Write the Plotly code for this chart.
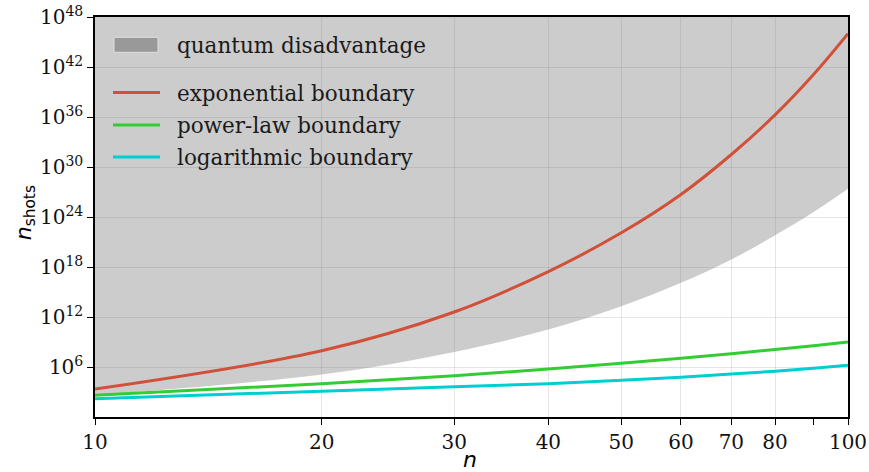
import plotly.graph_objects as go

# values (log10 of n_shots at each n)
n_vals = [10, 20, 30, 40, 50, 60, 70, 80, 90, 100]
region_log = [2.65, 5.1, 7.8, 10.5, 13.3, 16.1, 18.9, 21.8, 24.6, 27.4]
exp_log = [3.35, 7.95, 12.6, 17.45, 22.1, 26.7, 31.5, 36.25, 41.1, 46.0]
power_log = [2.6, 4.0, 4.95, 5.75, 6.45, 7.05, 7.6, 8.1, 8.55, 9.0]
logb_log = [2.2, 3.1, 3.62, 4.0, 4.4, 4.78, 5.15, 5.5, 5.85, 6.2]
top_log = 50

legend_names = ["quantum disadvantage", "exponential boundary", "power-law boundary", "logarithmic boundary"]
line_colors = ["#d1503a", "#34cc34", "#00ced1"]

x_tickvals = [10, 20, 30, 40, 50, 60, 70, 80, 100]
x_ticktext = ["10", "20", "30", "40", "50", "60", "70", "80", "100"]
y_exps = [6, 12, 18, 24, 30, 36, 42, 48]


def pw(v):
    return [10.0 ** e for e in v]


fig = go.Figure()

# shaded region: between the boundary and the top of the plot
fig.add_trace(go.Scatter(x=[n_vals[0], n_vals[-1]], y=[10.0 ** top_log] * 2, mode="lines",
                         line=dict(width=0), showlegend=False, hoverinfo="skip"))
fig.add_trace(go.Scatter(x=n_vals, y=pw(region_log), mode="lines", fill="tonexty",
                         line=dict(width=0, shape="spline"), fillcolor="rgba(128,128,128,0.4)",
                         name=legend_names[0], showlegend=False, hoverinfo="skip"))

for vals, col, name in zip([exp_log, power_log, logb_log], line_colors, legend_names[1:]):
    fig.add_trace(go.Scatter(x=n_vals, y=pw(vals), mode="lines",
                             line=dict(color=col, width=3, shape="spline"),
                             name=name, showlegend=False))

# manual legend (paper coordinates)
W, H, L, T = 753.0, 400.0, 95.0, 16.7


def px(x):
    return (x - L) / W


def py(y):
    return (T + H - y) / H


shapes = [dict(type="rect", xref="paper", yref="paper", x0=px(114), x1=px(158), y0=py(52), y1=py(37),
               fillcolor="#999999", line=dict(color="#e0e0e0", width=1))]
legend_y = [45, 93, 125.5, 157.5]
for yy, col in zip(legend_y[1:], line_colors):
    shapes.append(dict(type="line", xref="paper", yref="paper", x0=px(113), x1=px(160),
                       y0=py(yy - 0.7), y1=py(yy - 0.7), line=dict(color=col, width=3)))

annotations = []
for yy, name in zip(legend_y, legend_names):
    annotations.append(dict(xref="paper", yref="paper", x=px(175), y=py(yy), xanchor="left", yanchor="middle",
                            text=name, showarrow=False,
                            font=dict(family="DejaVu Serif", size=21.5, color="#1a1a1a")))
# axis titles
annotations.append(dict(xref="paper", yref="paper", x=px(470), y=py(459), xanchor="center", yanchor="middle",
                        text="<i>n</i>", showarrow=False,
                        font=dict(family="DejaVu Sans", size=22, color="black")))
annotations.append(dict(xref="paper", yref="paper", x=px(25), y=py(213), xanchor="center", yanchor="middle",
                        text="<i>n</i><sub>shots</sub>", showarrow=False, textangle=-90,
                        font=dict(family="DejaVu Sans", size=22, color="black")))

tick_font = dict(family="DejaVu Serif", size=20, color="#111111")

fig.update_layout(
    width=869, height=472,
    margin=dict(l=95, r=21, t=17, b=55),
    paper_bgcolor="white", plot_bgcolor="white",
    showlegend=False,
    shapes=shapes,
    annotations=annotations,
    xaxis=dict(type="log", range=[1, 2], tickvals=x_tickvals, ticktext=x_ticktext,
               ticks="outside", ticklen=6, tickwidth=1.2, tickcolor="black",
               showline=True, linecolor="black", linewidth=1.5, mirror=True,
               showgrid=True, gridcolor="rgba(0,0,0,0.1)", gridwidth=1,
               tickfont=tick_font, zeroline=False, automargin=False,
               minor=dict(tickvals=[90], ticks="outside", ticklen=6, tickcolor="black", showgrid=False)),
    yaxis=dict(type="log", range=[0, 48], tickvals=[10.0 ** e for e in y_exps],
               ticktext=["10<sup>%d</sup>" % e for e in y_exps],
               ticks="outside", ticklen=6, tickwidth=1.2, tickcolor="black",
               showline=True, linecolor="black", linewidth=1.5, mirror=True,
               showgrid=True, gridcolor="rgba(0,0,0,0.1)", gridwidth=1,
               tickfont=tick_font, zeroline=False, automargin=False),
)

fig.write_html("out.html")
